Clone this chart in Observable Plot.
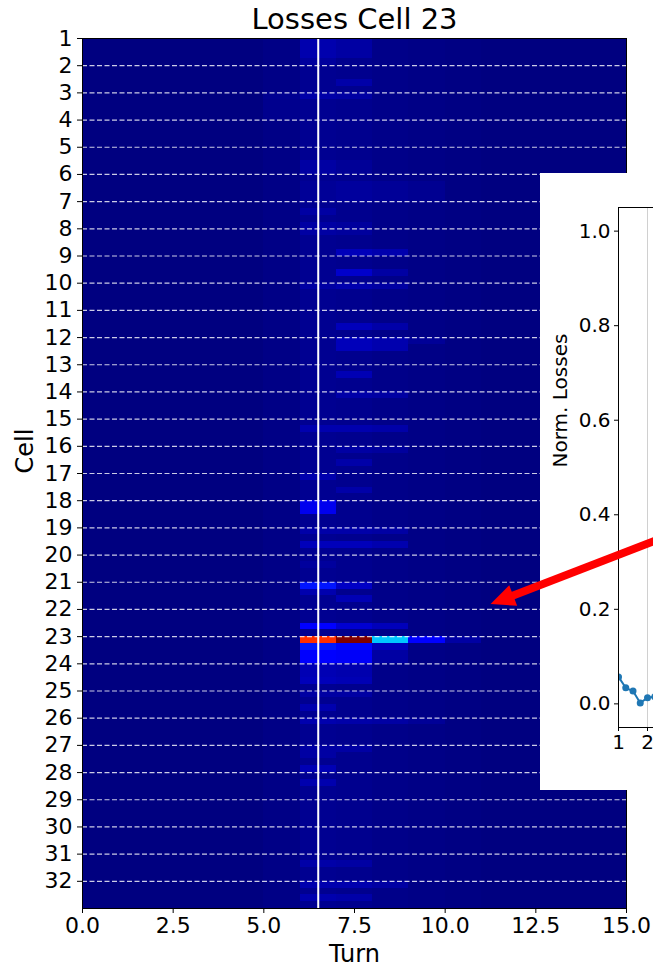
<!DOCTYPE html>
<html><head><meta charset="utf-8">
<script src="https://cdn.jsdelivr.net/npm/d3@7"></script>
<script src="https://cdn.jsdelivr.net/npm/@observablehq/plot@0.6"></script>
<style>
html,body{margin:0;padding:0;background:#fff;overflow:hidden;width:653px;height:969px;}
#wrap{position:relative;width:653px;height:969px;overflow:hidden;}
#main{position:absolute;left:0;top:0;}
#inset{position:absolute;left:540px;top:173px;width:420px;height:617px;background:#fff;}
svg{font-family:"DejaVu Sans",sans-serif;}
</style></head><body><div id="wrap"><div id="main"></div><div id="inset"></div></div>
<script>
// ---- data ----
const turns = [0,1,2,3,4,5,6,7,8,9,10,11,12,13,14];
const columnBase = [0,0,0,0,0,0.005,0.015,0.012,0.008,0.005,0.003,0,0,0,0];
const cells = d3.range(1, 33);
const xTicks = [0, 2.5, 5, 7.5, 10, 12.5, 15];
const markerTurn = [6.5];
// [turn, cellStart, cellEnd, normalized loss]
const patches = [
  [6,1.0,1.75,0.04],[7,1.0,1.75,0.03],[6,1.75,2.0,0.025],[7,2.5,2.75,0.035],
  [5,3.0,3.25,0.015],[6,3.0,3.25,0.035],[7,3.0,3.25,0.03],[5,3.25,4.0,0.012],
  [6,5.5,6.0,0.03],[7,5.5,6.0,0.02],
  [6,6.25,7.0,0.02],[7,6.25,7.0,0.025],[8,6.25,7.0,0.02],[9,6.25,7.0,0.015],
  [6,7.25,7.5,0.03],[6,7.75,8.25,0.03],[7,7.75,8.25,0.025],
  [7,8.75,9.0,0.05],[8,8.75,9.0,0.04],[7,9.5,9.75,0.065],[8,9.5,9.75,0.03],
  [6,10.0,10.25,0.03],[7,10.0,10.25,0.04],[8,10.0,10.25,0.03],
  [7,11.5,11.75,0.05],[8,11.5,11.75,0.035],
  [7,12.0,12.5,0.05],[8,12.0,12.5,0.04],[9,12.0,12.25,0.02],
  [7,13.25,13.5,0.045],[7,14.0,14.25,0.035],[8,14.0,14.25,0.03],
  [6,15.25,15.5,0.04],[7,15.25,15.5,0.04],[8,15.25,15.5,0.035],
  [7,16.0,16.25,0.03],[8,16.0,16.25,0.025],[7,16.5,16.75,0.035],
  [6,17.0,17.25,0.04],[7,17.5,17.75,0.035],
  [6,18.0,18.5,0.095],
  [6,19.0,19.25,0.035],[7,19.0,19.25,0.035],[8,19.0,19.25,0.03],
  [6,19.5,19.75,0.05],[7,19.5,19.75,0.05],[8,19.5,19.75,0.04],
  [6,20.25,20.5,0.025],
  [6,21.0,21.25,0.145],[7,21.0,21.25,0.06],[6,21.25,21.5,0.04],[7,21.5,21.75,0.045],
  [6,22.5,22.75,0.12],[7,22.5,22.75,0.07],[8,22.5,22.75,0.05],
  [6,23.0,23.25,0.86],[7,23.0,23.25,1.0],[8,23.0,23.25,0.32],[9,23.0,23.25,0.12],[10,23.0,23.25,0.03],
  [6,23.25,23.5,0.15],[7,23.25,23.5,0.13],[8,23.25,23.5,0.05],
  [6,23.5,24.0,0.11],[7,23.5,24.0,0.105],[8,23.5,24.0,0.03],
  [6,24.0,24.5,0.045],[7,24.0,24.5,0.04],[6,24.5,24.75,0.05],[7,24.5,24.75,0.045],
  [6,25.0,25.25,0.03],[7,25.0,25.25,0.03],[6,25.5,25.75,0.04],
  [6,26.0,26.25,0.04],[7,26.0,26.25,0.035],[8,26.0,26.25,0.03],[9,26.0,26.25,0.02],
  [6,27.0,27.5,0.03],[7,27.0,27.25,0.03],[6,27.75,28.0,0.045],[6,28.25,28.5,0.04],
  [6,31.25,31.5,0.035],[7,31.25,31.5,0.03],
  [6,32.0,32.25,0.04],[7,32.0,32.25,0.04],[8,32.0,32.25,0.03],
  [6,32.5,32.75,0.04],[7,32.5,32.75,0.035]
];
// inset
const lossTurn = [1, 1.25, 1.5, 1.75, 2.0, 2.25];
const lossValue = [0.057, 0.034, 0.027, 0.002, 0.013, 0.015];
const insetXTicks = [1, 2];
const insetYTicks = [0, 0.2, 0.4, 0.6, 0.8, 1.0];
const arrowStart = [4.52, 0.399];
const arrowShaftEnd = [-2.93, 0.222];
const arrowTip = [-3.41, 0.211];
const arrowAngle = 249;

// jet colormap breakpoints (matplotlib)
const jetStops = [0, 0.11, 0.125, 0.34, 0.35, 0.375, 0.64, 0.65, 0.66, 0.89, 0.91, 1];
function jet(t){
  const seg = (pts) => { for (let i=1;i<pts.length;i++){ if (t<=pts[i][0]) { const [x0,y0]=pts[i-1],[x1,y1]=pts[i]; return y0+(y1-y0)*(t-x0)/(x1-x0);} } return pts[pts.length-1][1]; };
  const r = seg([[0,0],[0.35,0],[0.66,1],[0.89,1],[1,0.5]]);
  const g = seg([[0,0],[0.125,0],[0.375,1],[0.64,1],[0.91,0],[1,0]]);
  const b = seg([[0,0.5],[0.11,1],[0.34,1],[0.65,0],[1,0]]);
  return `rgb(${Math.round(r*255)},${Math.round(g*255)},${Math.round(b*255)})`;
}
const jetColors = jetStops.map(jet);

const columnRects = turns.map((t,i)=>({x1:t, x2:t+1, y1:1, y2:33, v:columnBase[i]}));
const patchRects = patches.map(([t,a,b,v])=>({x1:t, x2:t+1, y1:a, y2:b, v}));
const rectOpts = {x1:"x1", x2:"x2", y1:"y1", y2:"y2", fill:"v", shapeRendering:"crispEdges"};

const main = Plot.plot({
  width: 653, height: 969,
  marginLeft: 82, marginRight: 27, marginTop: 38, marginBottom: 61,
  x: {domain: [0, 15]},
  y: {domain: [1, 33], reverse: true},
  color: {type: "linear", domain: jetStops, range: jetColors, interpolate: "rgb"},
  style: {fontFamily: "DejaVu Sans", background: "white", overflow: "visible"},
  marks: [
    Plot.rect(columnRects, rectOpts),
    Plot.rect(patchRects, rectOpts),
    Plot.ruleY(cells, {stroke: "white", strokeOpacity: 0.8, strokeWidth: 1.2, strokeDasharray: "5,2.5"}),
    Plot.ruleX(markerTurn, {stroke: "white", strokeWidth: 2}),
    Plot.frame({stroke: "black", strokeWidth: 1}),
    Plot.axisX({ticks: xTicks, tickFormat: d3.format(".1f"), fontSize: 22, tickSize: 5, tickPadding: 4, label: null}),
    Plot.axisY({ticks: cells, tickFormat: d => String(d), fontSize: 22, tickSize: 5, tickPadding: 5, label: null}),
    Plot.text(["Turn"], {text: d => d, frameAnchor: "bottom", dy: 46, lineAnchor: "middle", fontSize: 24}),
    Plot.text(["Cell"], {text: d => d, frameAnchor: "left", dx: -57, rotate: -90, lineAnchor: "middle", fontSize: 24}),
    Plot.text(["Losses Cell 23"], {text: d => d, frameAnchor: "top", dy: -19, lineAnchor: "middle", fontSize: 29})
  ]
});
document.getElementById("main").appendChild(main);

const lossData = lossTurn.map((x,i)=>({x, y: lossValue[i]}));
const arrowHead = {
  draw(ctx, size) {
    const r = Math.sqrt(size / Math.PI);
    ctx.moveTo(0, 0);
    ctx.lineTo(-r, 2.2 * r);
    ctx.lineTo(r, 2.2 * r);
    ctx.closePath();
  }
};
const inset = Plot.plot({
  width: 420, height: 617,
  marginLeft: 78, marginRight: 81, marginTop: 34, marginBottom: 63,
  x: {domain: [1, 10]},
  y: {domain: [-0.05, 1.05]},
  style: {fontFamily: "DejaVu Sans", background: "transparent", overflow: "visible"},
  marks: [
    Plot.ruleX(insetXTicks, {stroke: "#d0d0d0", strokeWidth: 1}),
    Plot.line(lossData, {x: "x", y: "y", stroke: "#1f77b4", strokeWidth: 2, clip: true}),
    Plot.dot(lossData, {x: "x", y: "y", r: 3.5, fill: "#1f77b4", clip: true}),
    Plot.frame({stroke: "black", strokeWidth: 1}),
    Plot.axisY({ticks: insetYTicks, tickFormat: d3.format(".1f"), fontSize: 20, tickSize: 4, tickPadding: 4, label: null}),
    Plot.axisX({ticks: insetXTicks, tickFormat: d => String(d), fontSize: 20, tickSize: 4, tickPadding: 3, label: null}),
    Plot.text(["Norm. Losses"], {text: d => d, frameAnchor: "left", dx: -58, rotate: -90, lineAnchor: "middle", fontSize: 20}),
    Plot.link([{a: arrowStart, b: arrowShaftEnd}], {x1: d => d.a[0], y1: d => d.a[1], x2: d => d.b[0], y2: d => d.b[1], stroke: "red", strokeWidth: 8}),
    Plot.dot([arrowTip], {x: d => d[0], y: d => d[1], symbol: arrowHead, r: 11, fill: "red", stroke: "none", rotate: arrowAngle})
  ]
});
document.getElementById("inset").appendChild(inset);
</script></body></html>
